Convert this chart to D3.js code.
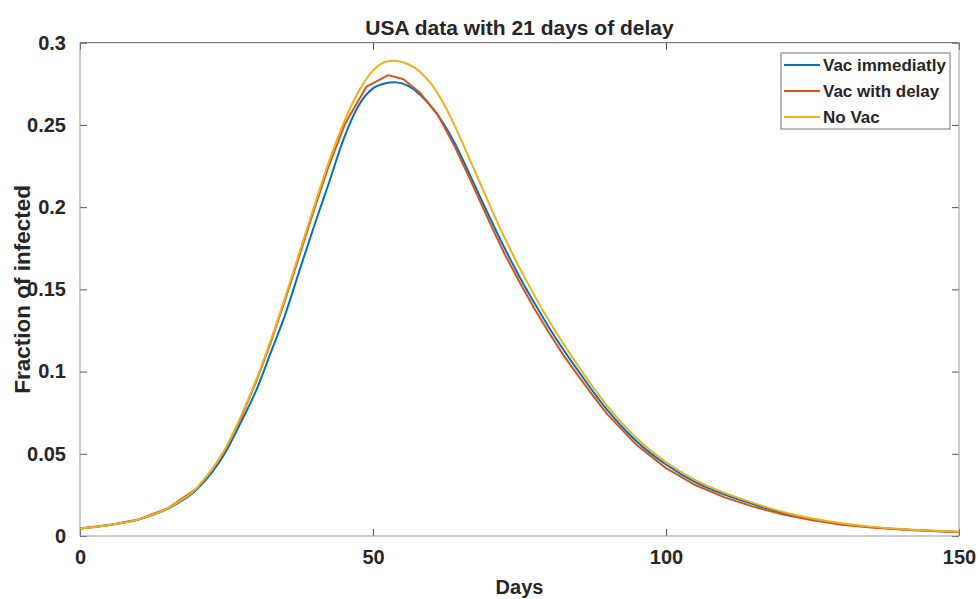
<!DOCTYPE html>
<html>
<head>
<meta charset="utf-8">
<script src="https://cdn.jsdelivr.net/npm/d3@7"></script>
<style>
	body { margin: 0; background: #fff; }
	svg text { font-family: "Liberation Sans", Arial, sans-serif; font-weight: bold; fill: #262626; }
</style>
</head>
<body>
<svg id="chart" width="978" height="599"></svg>
<script>
// values
var seriesNames = ['Vac immediatly', 'Vac with delay', 'No Vac'];
var seriesColors = ['#0072BD', '#D95319', '#EDB120'];

var vacNowDays = [0, 5, 10, 15, 20, 25, 27.5, 30, 32.5, 35, 37.5, 40, 42.5, 45, 47.5, 50, 52, 53.7, 56, 58, 60, 62, 64, 66, 68, 70, 72, 75, 78, 80, 85, 90, 95, 100, 105, 110, 115, 120, 125, 130, 135, 140, 145, 150];
var vacNow = [0.0045, 0.0067, 0.0100, 0.0166, 0.0285, 0.0520, 0.0695, 0.0880, 0.1110, 0.1345, 0.1620, 0.1890, 0.2150, 0.2415, 0.2615, 0.2722, 0.2752, 0.2759, 0.2738, 0.2685, 0.2608, 0.2510, 0.2385, 0.2237, 0.2083, 0.1931, 0.1783, 0.1577, 0.1389, 0.1270, 0.1005, 0.0765, 0.0575, 0.0435, 0.0328, 0.0252, 0.0192, 0.0140, 0.0101, 0.0073, 0.0054, 0.0041, 0.0032, 0.0025];

var vacDelayDays = [0, 5, 10, 15, 20, 22.5, 25, 27.5, 30, 32.5, 35, 37.5, 40, 42.3, 45.2, 48.9, 52.6, 55.2, 58, 61, 64, 67, 70, 72.5, 75, 77.5, 80, 82.5, 85, 87.5, 90, 95, 100, 105, 110, 115, 120, 125, 130, 135, 140, 145, 150];
var vacDelay = [0.0045, 0.0067, 0.0101, 0.0169, 0.0292, 0.0400, 0.0538, 0.0722, 0.0933, 0.1172, 0.1435, 0.1712, 0.1990, 0.2235, 0.2505, 0.2733, 0.2803, 0.2778, 0.2696, 0.2565, 0.2365, 0.2135, 0.1900, 0.1712, 0.1545, 0.1385, 0.1238, 0.1100, 0.0975, 0.0855, 0.0740, 0.0553, 0.0413, 0.0310, 0.0235, 0.0177, 0.0130, 0.0095, 0.0069, 0.0051, 0.0039, 0.0031, 0.0024];

var noVacDays = [0, 5, 10, 15, 20, 25, 27.5, 30, 32.5, 35, 37.5, 40, 42.5, 45, 47.5, 50, 52.5, 53.5, 56, 58, 60, 62, 64, 66, 68, 70, 72, 75, 78, 80, 85, 90, 95, 100, 105, 110, 115, 120, 125, 130, 135, 140, 145, 150];
var noVac = [0.0045, 0.0067, 0.0101, 0.0170, 0.0295, 0.0545, 0.0731, 0.0943, 0.1185, 0.1450, 0.1730, 0.2010, 0.2278, 0.2513, 0.2700, 0.2830, 0.2887, 0.2890, 0.2869, 0.2824, 0.2746, 0.2633, 0.2491, 0.2332, 0.2168, 0.2006, 0.1848, 0.1632, 0.1434, 0.1310, 0.1035, 0.0790, 0.0595, 0.0450, 0.0340, 0.0262, 0.0200, 0.0146, 0.0106, 0.0077, 0.0057, 0.0043, 0.0033, 0.0026];

var xTicks = [0, 50, 100, 150];
var yTicks = [0, 0.05, 0.1, 0.15, 0.2, 0.25, 0.3];

var margin = {top: 42.7, right: 19, bottom: 63, left: 80},
	width = 978 - margin.left - margin.right,
	height = 599 - margin.top - margin.bottom;

var svg = d3.select('#chart');
var chart = svg.append('g')
	.attr('transform', 'translate(' + margin.left + ',' + margin.top + ')');

var x = d3.scaleLinear().domain([0, 150]).range([0, width]);
var y = d3.scaleLinear().domain([0, 0.3]).range([height, 0]);

function zip(days, vals) {
	return days.map(function(d, i) { return {x: d, y: vals[i]}; });
}

// the delayed series is coarsely sampled in the original, so it stays straight-segmented
var series = [
	{name: seriesNames[0], color: seriesColors[0], data: zip(vacNowDays, vacNow), curve: d3.curveMonotoneX},
	{name: seriesNames[1], color: seriesColors[1], data: zip(vacDelayDays, vacDelay), curve: d3.curveLinear},
	{name: seriesNames[2], color: seriesColors[2], data: zip(noVacDays, noVac), curve: d3.curveMonotoneX}
];

// axes, ticks pointing in, mirrored on top/right
function styleAxis(g) {
	g.select('.domain').remove();
	g.selectAll('line').attr('stroke', '#555');
	g.selectAll('text').style('font-size', '20px').attr('fill', '#262626');
}

chart.append('g')
	.attr('transform', 'translate(0,' + height + ')')
	.call(d3.axisBottom(x).tickValues(xTicks).tickSize(-7).tickPadding(14).tickFormat(d3.format('d')))
	.call(styleAxis);

chart.append('g')
	.call(d3.axisLeft(y).tickValues(yTicks).tickSize(-7).tickPadding(14).tickFormat(function(d) { return d === 0 ? '0' : String(+d.toFixed(2)); }))
	.call(styleAxis);

chart.append('g')
	.call(d3.axisTop(x).tickValues(xTicks).tickSize(-7).tickFormat(''))
	.call(styleAxis);

chart.append('g')
	.attr('transform', 'translate(' + width + ',0)')
	.call(d3.axisRight(y).tickValues(yTicks).tickSize(-7).tickFormat(''))
	.call(styleAxis);

// box
chart.append('line').attr('x1', 0).attr('x2', width).attr('y1', 0).attr('y2', 0).attr('stroke', '#666');
chart.append('line').attr('x1', width).attr('x2', width).attr('y1', 0).attr('y2', height).attr('stroke', '#999');
chart.append('line').attr('x1', 0).attr('x2', 0).attr('y1', 0).attr('y2', height).attr('stroke', '#999');
chart.append('line').attr('x1', 0).attr('x2', width).attr('y1', height).attr('y2', height).attr('stroke', '#999');

series.forEach(function(s) {
	var line = d3.line()
		.x(function(d) { return x(d.x); })
		.y(function(d) { return y(d.y); })
		.curve(s.curve);
	chart.append('path')
		.datum(s.data)
		.attr('fill', 'none')
		.attr('stroke', s.color)
		.attr('stroke-width', 2)
		.attr('stroke-linejoin', 'round')
		.attr('d', line);
});

// title and labels
svg.append('text')
	.attr('x', margin.left + width / 2)
	.attr('y', 35)
	.attr('text-anchor', 'middle')
	.style('font-size', '21px')
	.text('USA data with 21 days of delay');

svg.append('text')
	.attr('x', margin.left + width / 2)
	.attr('y', 594)
	.attr('text-anchor', 'middle')
	.style('font-size', '20px')
	.text('Days');

svg.append('text')
	.attr('transform', 'translate(30,' + (margin.top + height / 2) + ') rotate(-90)')
	.attr('text-anchor', 'middle')
	.style('font-size', '22.5px')
	.text('Fraction of infected');

// legend
var legend = svg.append('g').attr('transform', 'translate(781,53)');
legend.append('rect')
	.attr('width', 169).attr('height', 76)
	.attr('fill', '#fff').attr('stroke', '#777');

series.forEach(function(s, i) {
	var cy = 12 + i * 26;
	legend.append('line')
		.attr('x1', 3).attr('x2', 39)
		.attr('y1', cy).attr('y2', cy)
		.attr('stroke', s.color).attr('stroke-width', 2);
	legend.append('text')
		.attr('x', 42).attr('y', cy)
		.attr('dy', '0.35em')
		.style('font-size', '17px')
		.text(s.name);
});
</script>
</body>
</html>
